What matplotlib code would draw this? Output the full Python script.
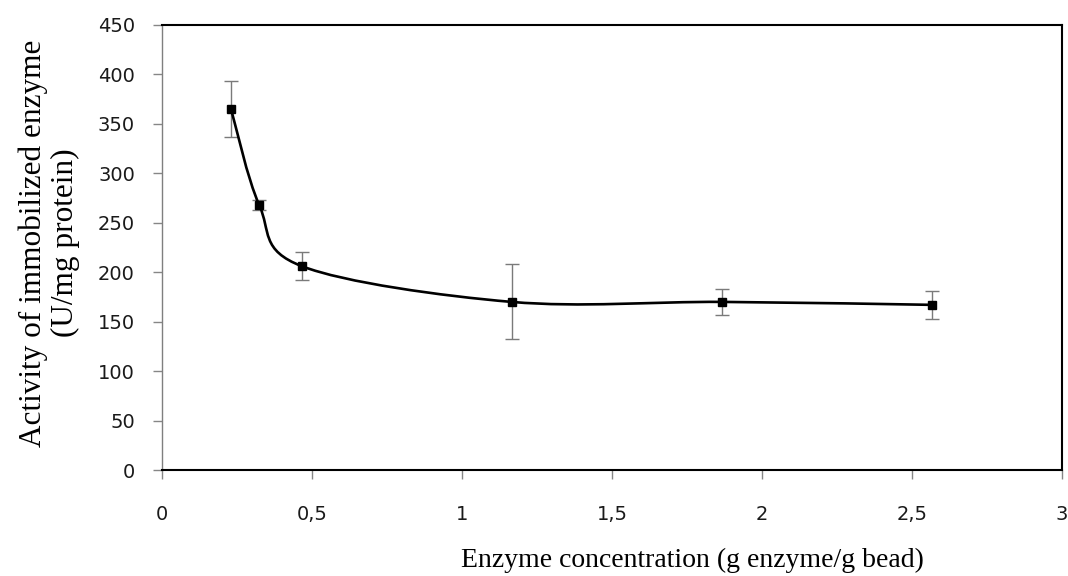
import matplotlib
matplotlib.use("Agg")
import matplotlib.pyplot as plt
import numpy as np
from matplotlib.path import Path
import matplotlib.patches as patches

# data
conc = [0.23, 0.324, 0.467, 1.165, 1.868, 2.568]
activity = [365, 268, 206, 170, 170, 167]
err = [28, 5, 14, 38, 13, 14.5]

x_ticks = [0, 0.5, 1, 1.5, 2, 2.5, 3]
x_ticklabels = ["0", "0,5", "1", "1,5", "2", "2,5", "3"]
y_ticks = list(range(0, 451, 50))

fig = plt.figure(figsize=(10.68, 5.76), dpi=100)
ax = fig.add_axes([0.1517, 0.184, 0.8427, 0.7726])

ax.set_xlim(0, 3)
ax.set_ylim(0, 450)

# smoothed line like Excel (Catmull-Rom as cubic Bezier path)
pts = np.column_stack([conc, activity]).astype(float)
verts = [tuple(pts[0])]
codes = [Path.MOVETO]
n = len(pts)
for i in range(n - 1):
    p0 = pts[i - 1] if i > 0 else pts[i]
    p1 = pts[i]
    p2 = pts[i + 1]
    p3 = pts[i + 2] if i + 2 < n else pts[i + 1]
    c1 = p1 + (p2 - p0) / 6.0
    c2 = p2 - (p3 - p1) / 6.0
    verts += [tuple(c1), tuple(c2), tuple(p2)]
    codes += [Path.CURVE4] * 3
ax.add_patch(patches.PathPatch(Path(verts, codes), fill=False, lw=1.9,
                               edgecolor="black", zorder=3))

ax.errorbar(conc, activity, yerr=err, fmt="none", ecolor="#7a7a7a",
            elinewidth=1.0, capsize=4.7, capthick=1.0, zorder=2)
ax.plot(conc, activity, ls="none", marker="s", ms=6, color="black", zorder=4)

for side in ["top", "right", "bottom"]:
    ax.spines[side].set_color("black")
    ax.spines[side].set_linewidth(1.5)
ax.spines["left"].set_color("#7f7f7f")
ax.spines["left"].set_linewidth(1.0)

ax.set_xticks(x_ticks)
ax.set_xticklabels(x_ticklabels)
ax.set_yticks(y_ticks)
ax.tick_params(axis="both", direction="out", length=6.5, width=1,
               color="#868686", labelsize=14, labelcolor="#1a1a1a")
ax.tick_params(axis="x", pad=19)
ax.tick_params(axis="y", pad=13)
for lab in ax.get_xticklabels() + ax.get_yticklabels():
    lab.set_family("DejaVu Sans")

ax.set_xlabel("Enzyme concentration (g enzyme/g bead)", family="Liberation Serif",
              fontsize=20)
ax.xaxis.set_label_coords(0.589, -0.203)
ax.xaxis.label.set_va("center")
ax.set_ylabel("Activity of immobilized enzyme\n(U/mg protein)",
              family="Liberation Serif", fontsize=22.5, linespacing=1.15)
ax.yaxis.set_label_coords(-0.091, 0.51)

fig.savefig("out.png", dpi=100)
